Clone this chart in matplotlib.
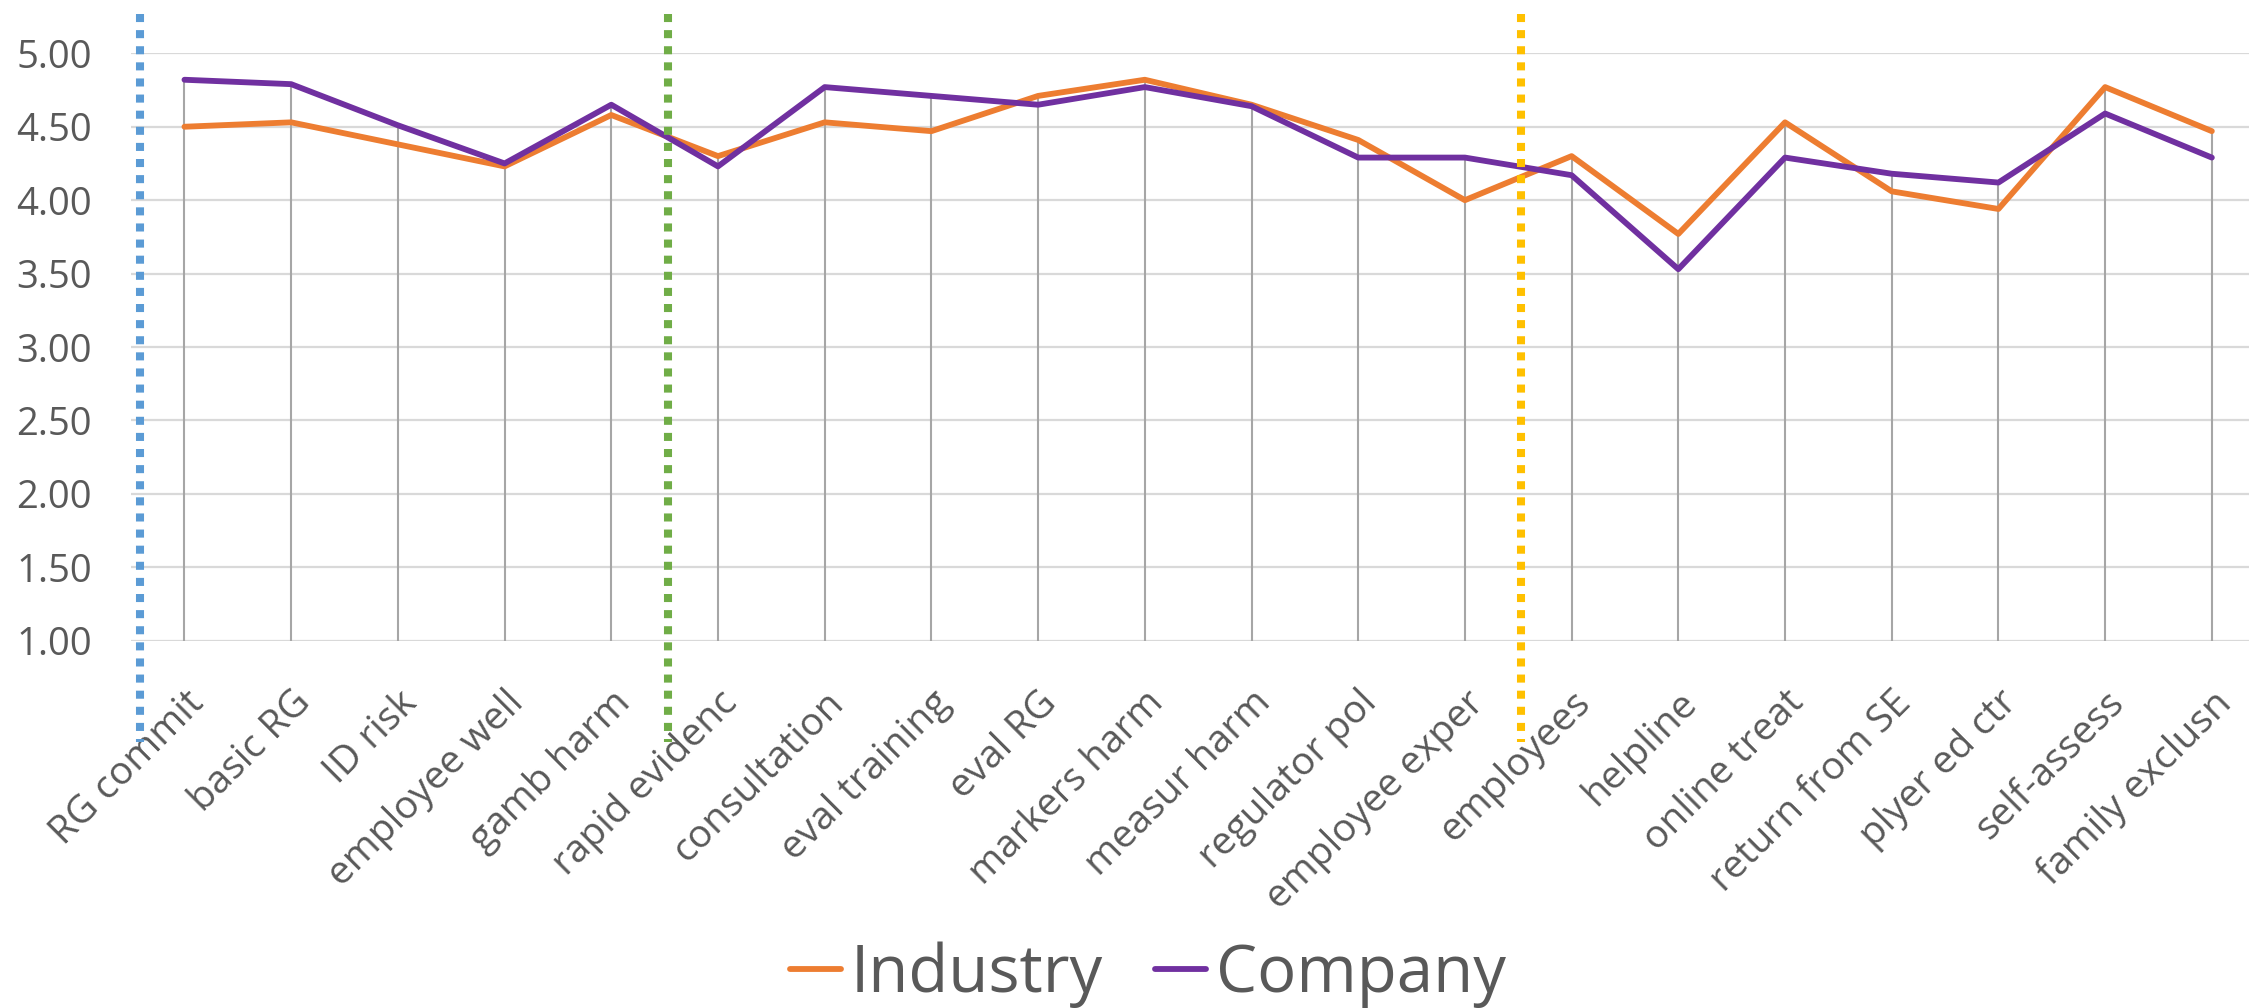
"""Industry vs company ratings across responsible-gambling items."""

import matplotlib

matplotlib.use("Agg")
import matplotlib.pyplot as plt
import numpy as np

CATEGORIES = [
    "RG commit", "basic RG", "ID risk", "employee well", "gamb harm",
    "rapid evidenc", "consultation", "eval training", "eval RG", "markers harm",
    "measur harm", "regulator pol", "employee exper", "employees", "helpline",
    "online treat", "return from SE", "plyer ed ctr", "self-assess", "family exclusn",
]
INDUSTRY = [4.50, 4.53, 4.38, 4.23, 4.58, 4.30, 4.53, 4.47, 4.71, 4.82,
            4.65, 4.41, 4.00, 4.30, 3.77, 4.53, 4.06, 3.94, 4.77, 4.47]
COMPANY = [4.82, 4.79, 4.51, 4.25, 4.65, 4.23, 4.77, 4.71, 4.65, 4.77,
           4.64, 4.29, 4.29, 4.17, 3.53, 4.29, 4.18, 4.12, 4.59, 4.29]
Y_TICKS = [1.0, 1.5, 2.0, 2.5, 3.0, 3.5, 4.0, 4.5, 5.0]

# section separators (between categories)
DIVIDERS = [-0.42, 4.53, 12.53]
DIVIDER_COLORS = ["#5B9BD5", "#70AD47", "#FFC000"]

TEXT = "#595959"
ORANGE = "#ED7D31"
PURPLE = "#7030A0"

plt.rcParams.update({
    "font.family": ["Open Sans", "DejaVu Sans"],
    "text.color": TEXT,
    "xtick.color": TEXT,
    "ytick.color": TEXT,
})

fig = plt.figure(figsize=(22.49, 10.08), dpi=100)
ax = fig.add_axes([0.0583, 0.3644, 0.9489, 0.5827])

x = np.arange(len(CATEGORIES))
industry = np.array(INDUSTRY)
company = np.array(COMPANY)

ax.set_xlim(-0.5, 19.5)
ax.set_ylim(1.0, 5.0)

for yv in Y_TICKS:
    ax.axhline(yv, color="#D9D9D9", linewidth=1.6, zorder=1)

# drop lines from the top series to the axis floor
ax.vlines(x, 1.0, np.maximum(industry, company), color="#A6A6A6",
          linewidth=1.5, zorder=2)

ax.plot(x, industry, color=ORANGE, linewidth=4.2, label="Industry",
        solid_joinstyle="round", solid_capstyle="round", zorder=3)
ax.plot(x, company, color=PURPLE, linewidth=4.2, label="Company",
        solid_joinstyle="round", solid_capstyle="round", zorder=4)

for xd, col in zip(DIVIDERS, DIVIDER_COLORS):
    ax.plot([xd, xd], [5.265, 0.31], color=col, linewidth=5.8,
            linestyle=(0, (1, 1)), dash_capstyle="butt",
            clip_on=False, zorder=6)

ax.set_yticks(Y_TICKS)
ax.set_yticklabels([f"{v:.2f}" for v in Y_TICKS], fontsize=27.5)
ax.set_xticks(x)
ax.set_xticklabels(CATEGORIES, fontsize=28, rotation=45, ha="right",
                   rotation_mode="anchor")
ax.tick_params(axis="y", length=0, pad=28)
ax.tick_params(axis="x", length=0, pad=31)

for side in ["top", "right", "left", "bottom"]:
    ax.spines[side].set_visible(False)

fig.legend(loc="center", bbox_to_anchor=(0.5104, 0.0327), ncol=2,
           frameon=False, fontsize=47, handlelength=0.78,
           handletextpad=0.15, columnspacing=0.8, labelcolor=TEXT)

fig.savefig("out.png", dpi=100)
